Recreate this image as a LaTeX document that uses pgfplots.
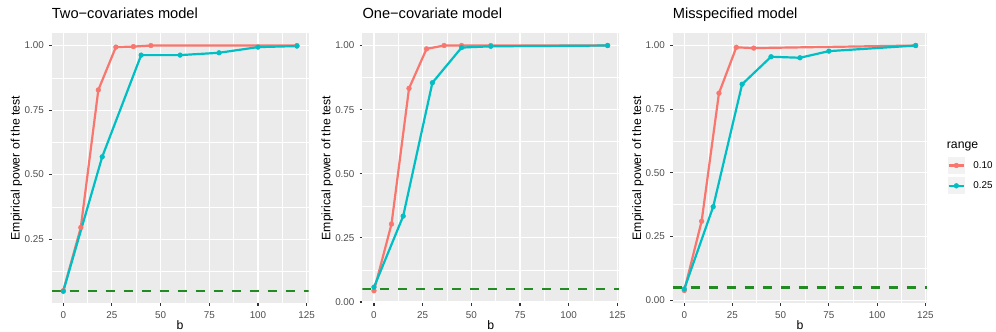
\documentclass[border=0pt]{standalone}
\usepackage{fontspec}
\setmainfont{Liberation Sans}
\usepackage{pgfplots}
\pgfplotsset{compat=1.18}

\definecolor{rred}{HTML}{F8766D}
\definecolor{rcyan}{HTML}{00BFC4}
\definecolor{panelbg}{HTML}{EBEBEB}
\definecolor{keybg}{HTML}{F2F2F2}
\definecolor{ticktext}{HTML}{4D4D4D}
\definecolor{tickmark}{HTML}{333333}
\definecolor{refgreen}{HTML}{228B22}

\newcommand{\ticksize}{\fontsize{9.9}{11}\selectfont}
\newcommand{\labsize}{\fontsize{12.3}{14}\selectfont}
\newcommand{\titlesize}{\fontsize{14.7}{17}\selectfont}

\pgfplotsset{
  ggpanel/.style={
    scale only axis, width=257bp, height=269.7bp,
    xmin=-6, xmax=126,
    xtick={0,25,50,75,100,125},
    ytick={0,0.25,0.5,0.75,1},
    minor xtick={12.5,37.5,62.5,87.5,112.5},
    minor ytick={0.125,0.375,0.625,0.875},
    axis background/.style={fill=panelbg},
    axis line style={draw=none},
    grid=both,
    major grid style={white, line width=1.07bp},
    minor grid style={white, line width=0.53bp},
    tick align=outside, tick pos=left,
    major tick length=2.75bp, minor tick length=0pt,
    tick style={tickmark, line width=1.07bp},
    /pgf/number format/assume math mode=true,
    xticklabel style={font=\ticksize, text=ticktext, anchor=base, inner sep=0pt, yshift=-13bp},
    yticklabel style={font=\ticksize, text=ticktext, anchor=east, inner sep=0pt, xshift=-4.9bp,
      /pgf/number format/fixed, /pgf/number format/fixed zerofill, /pgf/number format/precision=2},
    xlabel={b},
    xlabel style={font=\labsize, at={(axis description cs:0.5,-0.1)}, anchor=base, inner sep=0pt},
    ylabel={Empirical power of the test},
    ylabel style={font=\labsize, at={(axis description cs:-0.137,0.5)}, anchor=center, inner sep=0pt},
    title style={font=\titlesize, at={(axis description cs:0,1)}, anchor=base west, inner sep=0pt, yshift=9.3bp},
    every axis plot/.append style={line width=2.2bp, line join=round},
  },
  redline/.style={rred, mark=*, mark size=2.4bp, mark options={solid, fill=rred, draw=rred, line width=0.4bp}},
  cyanline/.style={rcyan, mark=*, mark size=2.4bp, mark options={solid, fill=rcyan, draw=rcyan, line width=0.4bp}},
  alphaline/.style={refgreen, line width=2.3bp, dash pattern=on 9bp off 9bp, forget plot},
}

\begin{document}
\begin{tikzpicture}
\path[use as bounding box] (0,0) rectangle (996bp,332bp);

% Panel 1: two covariates
\begin{axis}[ggpanel, at={(51.6bp,29bp)}, anchor=south west,
  ymin=0.0025, ymax=1.0475, title={Two−covariates model}]
\addplot[redline] coordinates {(0,0.05) (9,0.295) (18,0.828) (27,0.994) (36,0.996) (45,1.0) (120,1.0)};
\addplot[cyanline] coordinates {(0,0.048) (20,0.569) (40,0.963) (60,0.963) (80,0.972) (100,0.994) (120,0.998)};
\addplot[alphaline] coordinates {(-6,0.05) (126,0.05)};
\end{axis}

% Panel 2: one covariate
\begin{axis}[ggpanel, at={(362.3bp,29bp)}, anchor=south west,
  ymin=-0.0038, ymax=1.0477, title={One−covariate model}]
\addplot[redline] coordinates {(0,0.044) (9,0.304) (18,0.833) (27,0.987) (36,1.0) (45,1.0) (60,1.0) (120,1.0)};
\addplot[cyanline] coordinates {(0,0.058) (15,0.335) (30,0.855) (45,0.992) (60,0.997) (120,1.0)};
\addplot[alphaline] coordinates {(-6,0.05) (126,0.05)};
\end{axis}

% Panel 3: misspecified model, carries the legend
\begin{axis}[ggpanel, at={(672.7bp,29bp)}, anchor=south west, width=254.5bp,
  ymin=-0.0111, ymax=1.0481, title={Misspecified model},
  legend style={at={(1.0806,0.5419)}, anchor=north west, draw=none, fill=none,
    inner sep=0pt, outer sep=0pt, row sep=3bp, font=\ticksize,
    nodes={inner sep=0pt, anchor=west},
    /tikz/every odd column/.append style={column sep=8.3bp}},
  legend cell align=left,
  legend image code/.code={
    \fill[keybg, draw=none] (0bp,-8.65bp) rectangle (17.3bp,8.65bp);
    \draw[#1, mark=none] (1.2bp,0bp) -- (16.1bp,0bp);
    \draw[#1, draw=none, mark repeat=2, mark phase=2] plot coordinates {(1.2bp,0bp) (8.65bp,0bp) (16.1bp,0bp)};
  }]
\addplot[redline] coordinates {(0,0.038) (9,0.31) (18,0.813) (27,0.993) (36,0.99) (120,1.0)};
\addlegendentry{0.10}
\addplot[cyanline] coordinates {(0,0.044) (15,0.367) (30,0.848) (45,0.956) (60,0.952) (75,0.978) (120,1.0)};
\addlegendentry{0.25}
\addplot[alphaline] coordinates {(-6,0.05) (126,0.05)};
\end{axis}

\node[font=\labsize, anchor=base west, inner sep=0pt] at (946.7bp,183bp) {range};
\end{tikzpicture}
\end{document}
